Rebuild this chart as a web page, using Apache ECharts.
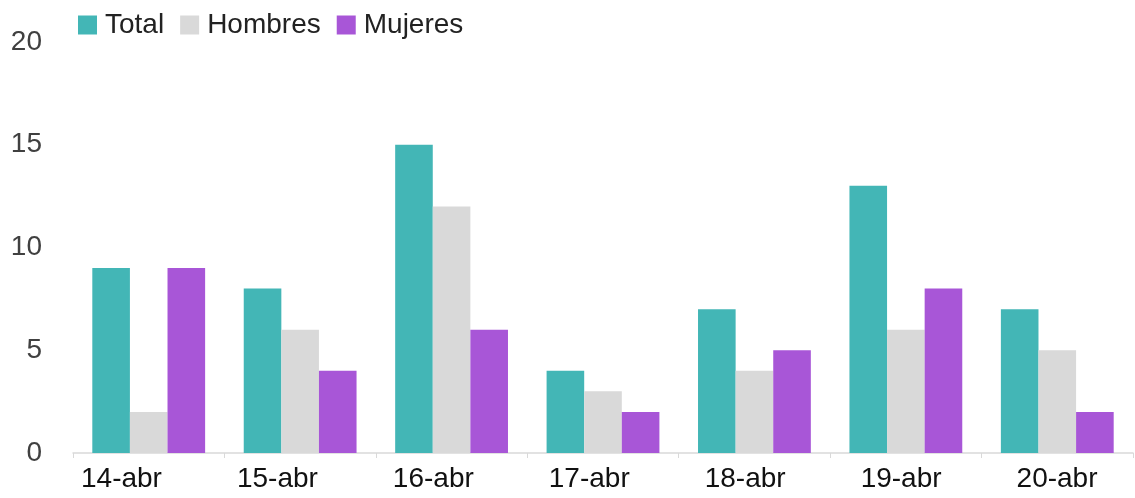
<!DOCTYPE html>
<html>
<head>
    <meta charset="utf-8">
    <script type="text/javascript" src="https://cdn.jsdelivr.net/npm/echarts@6/dist/echarts.min.js"></script>
    <title>charts</title>
    <style>
        html, body { margin: 0; padding: 0; background: #fff; }
    </style>
</head>
<body>
<div id="main" style="width: 1135px;height:498px;"></div>
<script type="text/javascript">

    var categories = ['14-abr', '15-abr', '16-abr', '17-abr', '18-abr', '19-abr', '20-abr'];
    var totalData = [9, 8, 15, 4, 7, 13, 7];
    var hombresData = [2, 6, 12, 3, 4, 6, 5];
    var mujeresData = [9, 4, 6, 2, 5, 8, 2];
    var yTicks = [0, 5, 10, 15, 20];

    var font = '"Liberation Sans", Arial, sans-serif';
    var myChart = echarts.init(document.getElementById('main'));

    function bar(name, data, color) {
        return {
            name: name,
            type: 'bar',
            data: data,
            barGap: 0,
            barCategoryGap: '25.5%',
            itemStyle: { color: color },
            animation: false
        };
    }

    var option = {
        backgroundColor: '#fff',
        legend: {
            left: 73,
            top: 6,
            itemWidth: 19,
            itemHeight: 19,
            itemGap: 16,
            icon: 'rect',
            textStyle: { fontFamily: font, fontSize: 28, color: '#222', padding: [0, 0, 0, 3] },
            data: ['Total', 'Hombres', 'Mujeres']
        },
        grid: [
            { left: 73, right: 2, top: 42, bottom: 45, containLabel: false },
            // labels only: Excel spreads the category text wider than the bars
            { left: 43.5, right: -28.5, top: 42, bottom: 45, containLabel: false }
        ],
        xAxis: [{
            type: 'category',
            gridIndex: 0,
            data: categories,
            axisLine: { lineStyle: { color: '#d9d9d9', width: 1.5 } },
            axisTick: { show: true, length: 5, lineStyle: { color: '#d9d9d9' } },
            axisLabel: { show: false }
        }, {
            type: 'category',
            gridIndex: 1,
            data: categories,
            axisLine: { show: false },
            axisTick: { show: false },
            axisLabel: { margin: 12, fontFamily: font, fontSize: 28, color: '#111' }
        }],
        yAxis: [{
            type: 'value',
            gridIndex: 0,
            min: yTicks[0],
            max: yTicks[yTicks.length - 1],
            interval: 5,
            axisLine: { show: false },
            axisTick: { show: false },
            splitLine: { show: false },
            axisLabel: { margin: 31, fontFamily: font, fontSize: 28, color: '#404040' }
        }, {
            type: 'value',
            gridIndex: 1,
            min: 0,
            max: 20,
            show: false
        }],
        series: [
            bar('Total', totalData, '#43b6b6'),
            bar('Hombres', hombresData, '#d9d9d9'),
            bar('Mujeres', mujeresData, '#a856d7')
        ]
    };
    myChart.setOption(option);

</script>
</body>
</html>
